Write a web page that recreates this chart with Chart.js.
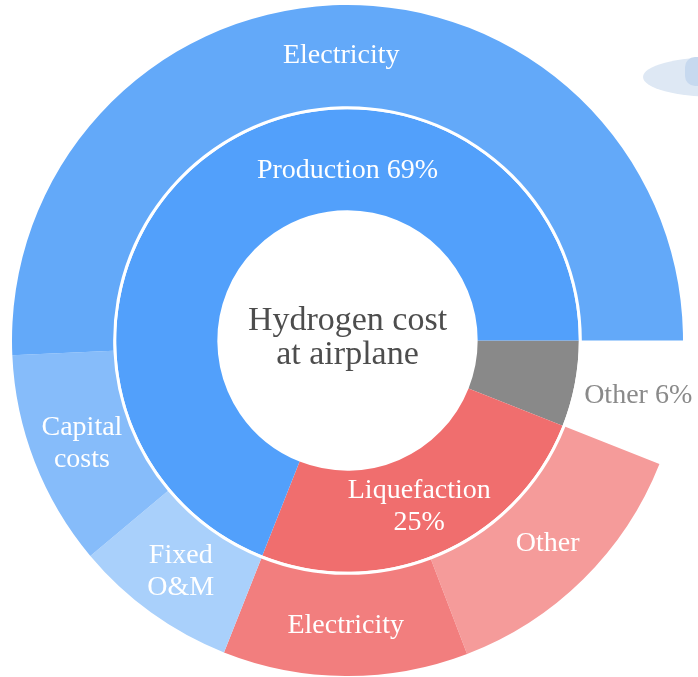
<!DOCTYPE html>
<html>
<head>
<meta charset="utf-8">
<script src="https://cdn.jsdelivr.net/npm/chart.js@4/dist/chart.umd.min.js"></script>
<style>
  html, body { margin: 0; padding: 0; background: #fff; }
  #wrap { position: relative; width: 698px; height: 677px; overflow: hidden; }
  /* bit of the airplane graphic peeking in at the top right */
  .plane { position: absolute; left: 643px; top: 57px; width: 150px; height: 40px;
           background: #dee8f4; border-radius: 50%; }
  .plane-win { position: absolute; left: 685px; top: 57px; width: 40px; height: 29px;
               background: #c7d9ef; border-radius: 10px 0 0 10px; }
  canvas { position: absolute; left: 0; top: 0; }
</style>
</head>
<body>
<div id="wrap">
  <div class="plane"></div>
  <div class="plane-win"></div>
  <canvas id="sunburst" width="698" height="677"></canvas>
</div>
<script>
/* ============================
   DATA (share of hydrogen cost, %)
============================ */

// inner ring, clockwise from 3 o'clock
const innerLabels = ["", "Liquefaction\n25%", "Production 69%"];
const innerValues = [6, 25, 69];
const innerColors = ["#898989", "#f06e6e", "#52a0fb"];

// outer ring, clockwise from 3 o'clock (first slot = "Other 6%", no breakdown)
const outerLabels = ["Other 6%", "Other", "Electricity", "Fixed\nO&M", "Capital\ncosts", "Electricity"];
const outerValues = [6, 13.2, 11.8, 7.9, 10.4, 50.7];
const outerColors = ["rgba(0,0,0,0)", "#f59b9a", "#f27e7e", "#a9d0fb", "#86bcfa", "#63a9f9"];

const centerLines = ["Hydrogen cost", "at airplane"];

/* ============================
   LABEL TWEAKS
============================ */

const FONT = '"Palatino Linotype", "Book Antiqua", Palatino, "Liberation Serif", serif';

// keyed "dataset:index"
const labelTweaks = {
  "2:2": { angle: -Math.PI / 2, dr: -11 },     // Production label sits at the top
  "0:0": { dr: 11, color: "#8a8a8a" }          // Other 6% sits in the empty slot
};

/* ============================
   PLUGIN: RING + CENTER TEXT
============================ */

const ringLabels = {
  id: "ringLabels",
  afterDatasetsDraw(chart){
    const ctx = chart.ctx;
    ctx.save();
    ctx.textAlign = "center";
    ctx.textBaseline = "middle";
    ctx.font = "28px " + FONT;

    [[0, outerLabels], [2, innerLabels]].forEach(([di, labels]) => {
      chart.getDatasetMeta(di).data.forEach((arc, i) => {
        const text = labels[i];
        if(!text) return;
        const p = arc.getProps(["x", "y", "startAngle", "endAngle", "innerRadius", "outerRadius"], true);
        const tw = labelTweaks[di + ":" + i] || {};
        const angle = tw.angle !== undefined ? tw.angle : (p.startAngle + p.endAngle) / 2;
        const r = (p.innerRadius + p.outerRadius) / 2 + (tw.dr || 0);
        const x = p.x + Math.cos(angle) * r;
        const y = p.y + Math.sin(angle) * r;
        const lines = text.split("\n");
        const lh = 32;
        ctx.fillStyle = tw.color || "#ffffff";
        lines.forEach((ln, k) => {
          ctx.fillText(ln, x, y + (k - (lines.length - 1) / 2) * lh);
        });
      });
    });

    // center title
    const c = chart.getDatasetMeta(2).data[0];
    ctx.fillStyle = "#4d4d4d";
    ctx.font = "34px " + FONT;
    ctx.fillText(centerLines[0], c.x, c.y - 19);
    ctx.fillText(centerLines[1], c.x, c.y + 15);
    ctx.restore();
  }
};

/* ============================
   CHART
============================ */

new Chart(document.getElementById("sunburst"), {
  type: "doughnut",
  data: {
    labels: outerLabels,
    datasets: [
      { data: outerValues, backgroundColor: outerColors, borderWidth: 0, weight: 101 },
      { data: [1], backgroundColor: "#ffffff", borderWidth: 0, weight: 3 },
      { data: innerValues, backgroundColor: innerColors, borderWidth: 0, weight: 101 }
    ]
  },
  options: {
    responsive: false,
    animation: false,
    events: [],
    rotation: 90,
    cutout: "38.8%",
    layout: { padding: { left: 12, top: 5, right: 15, bottom: 1 } },
    plugins: {
      legend: { display: false },
      tooltip: { enabled: false }
    }
  },
  plugins: [ringLabels]
});
</script>
</body>
</html>
